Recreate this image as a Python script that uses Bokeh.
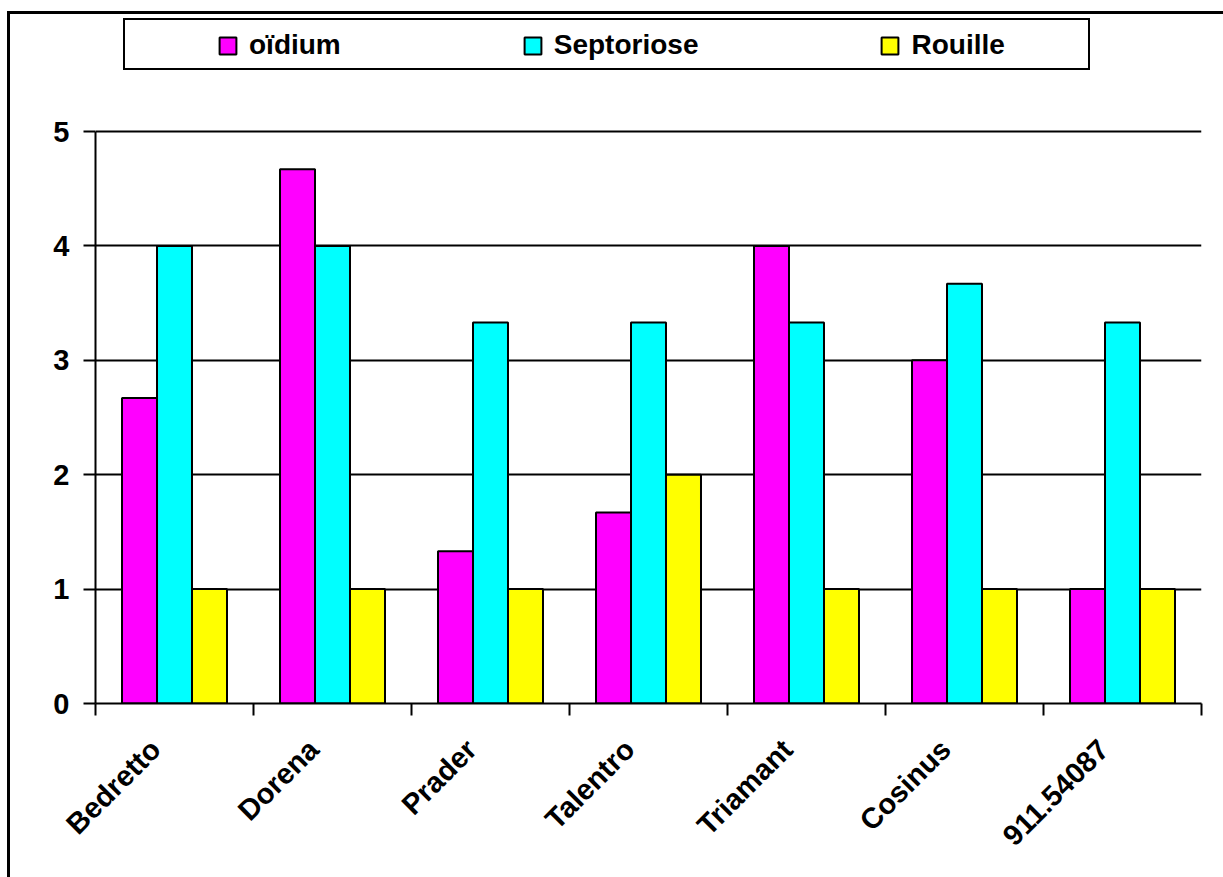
import math
from bokeh.plotting import figure
from bokeh.models import (Range1d, LinearAxis, FixedTicker, Legend, LegendItem, ColumnDataSource)
from bokeh.transform import dodge
from bokeh.embed import file_html
from bokeh.resources import INLINE

FONT = "Liberation Sans"

varieties = ["Bedretto", "Dorena", "Prader", "Talentro", "Triamant", "Cosinus", "911.54087"]
oidium = [2.67, 4.67, 1.33, 1.67, 4.0, 3.0, 1.0]
septoriose = [4.0, 4.0, 3.33, 3.33, 3.33, 3.67, 3.33]
rouille = [1.0, 1.0, 1.0, 2.0, 1.0, 1.0, 1.0]
series_names = ["oïdium", "Septoriose", "Rouille"]
series_colors = ["#FF00FF", "#00FFFF", "#FFFF00"]
y_ticks = [0, 1, 2, 3, 4, 5]
y_max = 5

n = len(varieties)
centers = [i + 0.5 for i in range(n)]
src = ColumnDataSource(dict(x=centers, cat=varieties, s0=oidium, s1=septoriose, s2=rouille))

# frame geometry (px): the frame reaches up to the legend so the legend is drawn inside it
FRAME_TOP, FRAME_BOTTOM, Y5_PX = 14, 703, 131
px_per_unit = (FRAME_BOTTOM - Y5_PX) / y_max
y_top = y_max + (Y5_PX - FRAME_TOP) / px_per_unit

p = figure(width=1223, height=877, x_range=Range1d(0, n), y_range=Range1d(0, y_top),
           output_backend="svg", toolbar_location=None, x_axis_location=None,
           min_border_left=95, min_border_right=22, min_border_top=FRAME_TOP,
           min_border_bottom=877 - FRAME_BOTTOM)
p.outline_line_color = None
p.background_fill_color = None
p.border_fill_color = None

# outer frame lines and legend box drawn as CSS background lines of the plot element
line = "linear-gradient(#000, #000)"
layers = [
    ("7px 11px", "3px 1000px"),      # outer left
    ("7px 11px", "1400px 3px"),      # outer top
    ("123px 18px", "967px 2px"),     # legend box top
    ("123px 68px", "967px 2px"),     # legend box bottom
    ("123px 18px", "2px 52px"),      # legend box left
    ("1088px 18px", "2px 52px"),     # legend box right
]
p.styles = {
    "background-color": "white",
    "background-image": ", ".join([line] * len(layers)),
    "background-position": ", ".join(pos for pos, _ in layers),
    "background-size": ", ".join(sz for _, sz in layers),
    "background-repeat": "no-repeat",
}

for g in p.xgrid:
    g.visible = False

yax = p.yaxis[0]
yax.ticker = FixedTicker(ticks=y_ticks)
yax.bounds = (0, y_max)
yax.major_tick_out = 12
yax.major_tick_in = 0
yax.minor_tick_out = 0
yax.minor_tick_in = 0
yax.axis_line_color = "black"
yax.axis_line_width = 2
yax.major_tick_line_color = "black"
yax.major_tick_line_width = 2
yax.major_label_standoff = 14
yax.major_label_text_font = FONT
yax.major_label_text_font_style = "bold"
yax.major_label_text_font_size = "29px"
yax.major_label_text_color = "black"

p.ygrid.grid_line_color = "black"
p.ygrid.grid_line_width = 2

bar_w = 0.2215
renderers = []
for i, (name, col) in enumerate(zip(series_names, series_colors)):
    r = p.vbar(x=dodge("x", (i - 1) * bar_w), top="s%d" % i, width=bar_w,
               source=src, fill_color=col, line_color="black", line_width=2)
    renderers.append(r)

# boundary ticks (between categories), no labels
tick_axis = LinearAxis(ticker=FixedTicker(ticks=list(range(n + 1))),
                       major_tick_out=12, major_tick_in=0, minor_tick_out=0, minor_tick_in=0,
                       major_label_text_font_size="0px", major_label_text_color=None,
                       major_label_standoff=0,
                       axis_line_color="black", axis_line_width=2,
                       major_tick_line_color="black", major_tick_line_width=2)
p.add_layout(tick_axis, "below")

# category labels
label_shift = -0.12
label_pos = [c + label_shift for c in centers]
cat_axis = LinearAxis(ticker=FixedTicker(ticks=label_pos),
                      major_label_overrides={pos: name for pos, name in zip(label_pos, varieties)},
                      axis_line_color=None, major_tick_line_color=None,
                      major_tick_out=0, major_tick_in=0, minor_tick_out=0, minor_tick_in=0,
                      major_label_orientation=math.pi / 4, major_label_standoff=29,
                      major_label_text_font=FONT, major_label_text_font_style="bold",
                      major_label_text_font_size="29px", major_label_text_color="black")
p.add_layout(cat_axis, "below")

legend = Legend(items=[LegendItem(label=nm, renderers=[r]) for nm, r in zip(series_names, renderers)],
                orientation="horizontal", location=(122, FRAME_BOTTOM - 61),
                glyph_width=21, glyph_height=21, label_standoff=11, spacing=181,
                padding=0, margin=0, border_line_color=None, background_fill_alpha=0,
                label_text_font=FONT, label_text_font_style="bold", label_text_font_size="28px",
                label_text_color="black")
p.add_layout(legend)

open("out.html", "w").write(file_html(p, INLINE))
